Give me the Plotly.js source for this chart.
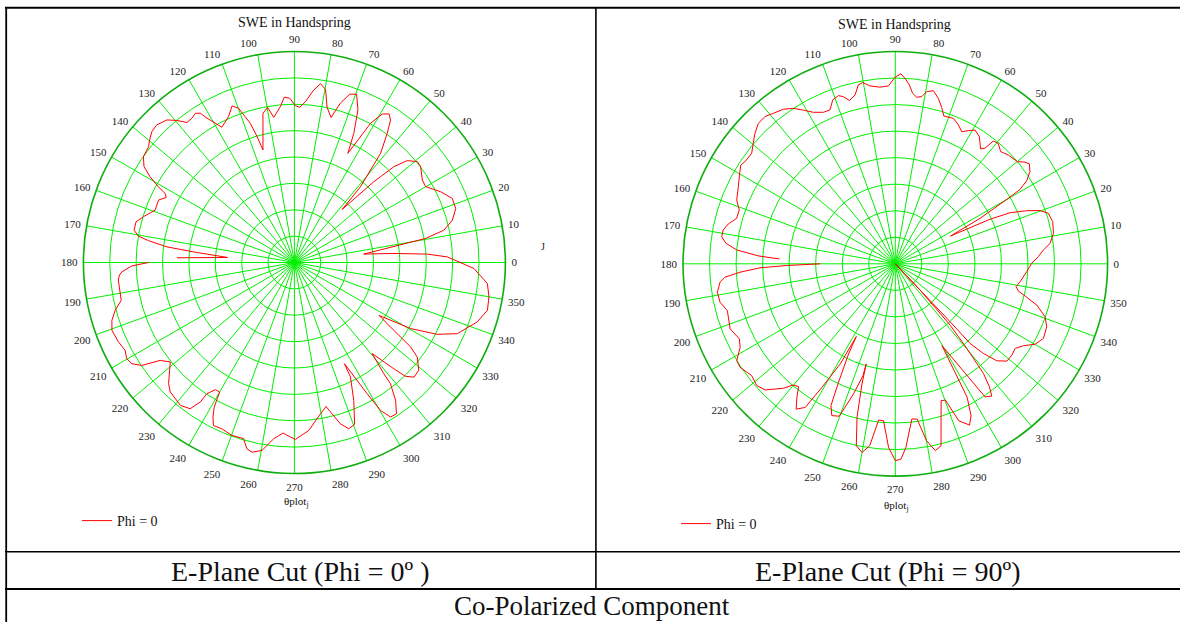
<!DOCTYPE html>
<html>
<head>
<meta charset="utf-8">
<script src="https://cdn.plot.ly/plotly-3.0.1.min.js"></script>
<style>
html,body{margin:0;padding:0;background:#ffffff;}
#chart{width:1180px;height:622px;}
</style>
</head>
<body>
<div id="chart"></div>
<script>
// ---- data (radius in grid-ring units, 8 rings = outer circle) ----
const angleTicks = [0,10,20,30,40,50,60,70,80,90,100,110,120,130,140,150,160,170,180,190,200,210,220,230,240,250,260,270,280,290,300,310,320,330,340,350];
const angleLabels = ['0','10','20','30','40','50','60','70','80','90','100','110','120','130','140','150','160','170','180','190','200','210','220','230','240','250','260','270','280','290','300','310','320','330','340','350'];

const thetaPhi0 = [180,181.2,183.1,184.1,185.7,192.3,194.9,197.6,200.4,204.3,207.4,209.8,211.9,214.0,216.1,218.7,223.9,226.2,231.4,234.5,236.0,236.3,238.1,240.0,241.0,242.2,243.6,246.5,250.1,253.9,255.7,257.4,260.2,263.3,266.2,268.7,270.3,274.9,279.8,282.4,285.9,288.1,290.4,293.3,296.1,296.3,299.0,300.2,301.9,304.0,306.3,308.4,308.8,310.5,313.1,314.3,316.2,319.1,322.4,324.0,325.7,328.0,330.4,333.3,336.4,342.0,346.1,350.0,353.8,358.1,2.1,3.6,5.2,6.9,10.4,12.2,15.0,18.5,22.1,25.8,30.0,32.8,37.2,39.4,42.1,43.9,45.5,48.0,48.9,51.7,54.3,56.0,57.5,59.4,61.3,63.9,65.3,67.4,69.7,71.8,73.9,75.8,78.1,79.8,81.7,83.6,86.1,88.0,89.6,91.6,93.5,95.1,98.1,99.8,101.9,105.6,106.5,107.6,109.9,111.7,114.3,118.2,121.2,122.2,123.6,125.4,127.5,129.6,131.8,135.0,137.4,139.8,141.5,145.0,147.5,149.3,150.9,151.9,153.1,155.3,159.4,163.1,165.6,168.6,170.4,171.5,173.0,174.0,175.7,177.7];
const rPhi0 = [5.53,6.16,6.55,6.65,6.71,6.72,7.03,7.26,7.38,7.32,7.23,7.33,7.26,6.98,6.30,6.03,6.62,6.80,6.93,6.81,6.38,5.98,5.68,5.67,6.27,6.62,6.90,6.88,6.97,6.95,7.29,7.37,7.23,6.73,6.48,6.62,6.71,6.39,5.82,5.59,6.36,6.63,6.55,5.69,4.83,4.28,5.69,6.49,6.90,6.92,6.48,5.86,5.41,4.54,5.52,6.03,6.28,6.24,5.88,5.45,4.56,3.78,5.07,6.06,6.74,7.29,7.54,7.49,7.36,6.81,5.80,5.05,3.79,2.65,5.06,5.80,6.20,6.45,6.46,6.16,5.75,5.77,6.01,6.03,5.76,5.24,4.29,2.71,3.81,5.27,6.03,6.52,6.68,6.54,6.02,4.61,5.39,6.27,6.80,6.72,6.29,5.67,6.01,6.67,6.85,6.58,6.11,5.89,5.94,6.23,6.28,5.94,5.56,5.97,5.78,4.43,4.98,5.54,6.22,6.39,6.07,5.82,6.40,6.69,6.79,6.71,6.69,6.99,7.25,7.38,7.34,7.19,7.06,6.99,6.76,6.36,5.90,5.56,5.45,5.67,5.64,5.98,6.20,6.20,6.00,5.59,4.87,3.85,2.54,4.46];

const thetaPhi90 = [180,180.9,181.7,183.1,184.5,186.0,189.1,192.4,195.6,201.5,205.7,208.3,211.4,213.7,217.9,221.3,224.1,228.1,229.8,231.8,233.6,235.7,237.9,239.3,241.2,241.8,242.6,244.4,245.6,247.3,249.8,252.2,253.9,253.8,254.5,256.0,257.9,260.0,262.0,263.9,265.7,267.9,270.0,271.7,273.3,276.1,278.0,280.0,282.1,284.1,288.5,290.2,292.0,294.7,296.5,298.3,299.7,304.0,306.1,307.4,308.8,309.3,310.2,311.8,313.3,313.5,313.4,313.2,314.5,316.3,318.9,321.9,324.8,327.4,330.1,333.3,337.4,340.5,343.7,346.0,347.5,349.3,351.8,356.6,0.2,2.9,5.3,7.5,10.9,15.0,18.3,20.2,22.0,24.0,25.2,26.7,28.2,30.1,30.8,32.3,34.4,36.7,38.1,39.9,43.9,46.8,49.5,51.4,52.2,53.4,56.5,59.2,61.3,63.3,65.6,68.2,71.8,73.5,75.4,77.6,79.7,81.0,82.7,84.2,85.5,87.0,88.3,90.1,92.2,95.0,98.1,100.2,101.7,103.4,105.7,107.3,108.7,110.9,113.0,115.4,118.4,120.9,123.3,125.9,129.0,131.5,134.3,137.1,139.7,142.4,145.4,147.4,150.3,153.8,158.1,161.0,164.0,166.6,168.9,171.1,173.1,175.0,176.7,177.6];
const rPhi90 = [2.83,4.09,5.10,5.86,6.44,6.64,6.79,6.76,6.57,6.69,6.52,6.64,7.00,7.03,6.86,6.95,6.83,6.30,5.98,5.89,6.25,6.63,6.39,5.41,4.30,3.11,3.83,4.95,5.87,6.20,6.12,5.15,4.39,3.93,4.70,5.96,7.01,7.22,6.92,5.92,5.93,6.92,7.42,7.36,6.93,5.88,5.91,6.77,7.20,7.07,5.44,5.47,6.38,6.69,6.40,5.71,3.55,6.05,6.17,5.84,5.30,4.85,4.18,3.10,1.36,0,3.01,4.12,4.74,5.29,5.58,5.58,5.53,5.73,6.08,6.25,6.18,5.99,5.56,5.05,4.75,4.63,4.75,4.96,5.14,5.40,5.60,5.88,6.07,6.14,6.07,5.81,5.34,4.73,3.94,2.33,3.62,4.92,5.47,5.86,6.15,6.30,6.21,6.00,5.91,5.80,5.97,5.92,5.51,5.39,5.74,5.87,5.72,5.57,5.75,5.90,5.86,6.15,6.44,6.68,6.59,6.38,6.33,6.46,6.76,7.00,7.16,7.03,6.71,6.68,6.77,6.94,6.88,6.54,6.39,6.60,6.69,6.61,6.30,6.32,6.49,6.75,7.01,7.19,7.30,7.41,7.39,7.22,7.02,6.83,6.84,6.91,6.76,6.59,6.44,6.22,6.22,6.47,6.61,6.62,6.43,6.00,5.17,4.37];

const seriesName = 'Phi = 0';
const plotTitle = 'SWE in Handspring';
const axisLabel = 'θplot<sub>j</sub>';
const captions = ['E-Plane Cut (Phi = 0º )', 'E-Plane Cut (Phi = 90º)'];
const footer = 'Co-Polarized Component';

// ---- layout helpers (pixel -> paper) ----
const W = 1180, H = 622;
const px = v => v / W;
const py = v => 1 - v / H;
const SERIF = 'Liberation Serif';

function polar(x0, x1, yTop, yBot) {
  return {
    domain: {x: [px(x0), px(x1)], y: [py(yBot), py(yTop)]},
    bgcolor: '#ffffff',
    radialaxis: {
      range: [0, 8], dtick: 1, tick0: 0,
      showline: false, showticklabels: false, ticks: '',
      gridcolor: '#00f000', gridwidth: 1
    },
    angularaxis: {
      direction: 'counterclockwise', rotation: 0,
      tickmode: 'array', tickvals: angleTicks, ticktext: angleLabels,
      ticks: 'outside', ticklen: 3, tickcolor: 'rgba(0,0,0,0)',
      tickfont: {family: SERIF, size: 11, color: '#222222'},
      gridcolor: '#00f000', gridwidth: 1,
      showline: true, linecolor: '#0fae0f', linewidth: 1.6
    }
  };
}

const traces = [
  {type: 'scatterpolar', mode: 'lines', subplot: 'polar', legend: 'legend',
   r: rPhi0, theta: thetaPhi0, name: seriesName,
   line: {color: '#ff0000', width: 1}},
  {type: 'scatterpolar', mode: 'lines', subplot: 'polar2', legend: 'legend2',
   r: rPhi90, theta: thetaPhi90, name: seriesName,
   line: {color: '#ff0000', width: 1}}
];

function hline(y, x0, x1, w) {
  return {type: 'line', xref: 'paper', yref: 'paper', x0: px(x0), x1: px(x1), y0: py(y), y1: py(y), line: {color: '#000', width: w}};
}
function vline(x, y0, y1, w) {
  return {type: 'line', xref: 'paper', yref: 'paper', x0: px(x), x1: px(x), y0: py(y0), y1: py(y1), line: {color: '#000', width: w}};
}

function ann(text, x, y, size, color) {
  return {
    text: text, xref: 'paper', yref: 'paper', x: px(x), y: py(y),
    xanchor: 'center', yanchor: 'middle', showarrow: false,
    font: {family: SERIF, size: size, color: color || '#111111'}
  };
}

const legendBase = {
  xanchor: 'left', yanchor: 'middle', bgcolor: 'rgba(0,0,0,0)', borderwidth: 0,
  font: {family: SERIF, size: 14, color: '#111111'}
};

const layout = {
  width: W, height: H,
  margin: {l: 0, r: 0, t: 0, b: 0},
  paper_bgcolor: '#ffffff',
  showlegend: true,
  polar: polar(83.4, 505.4, 51.5, 473.5),
  polar2: polar(683, 1107.6, 51.5, 476.1),
  legend: Object.assign({x: px(77), y: py(521)}, legendBase),
  legend2: Object.assign({x: px(676), y: py(524)}, legendBase),
  shapes: [
    hline(7.8, 5, 1180, 2),
    vline(6.2, 7, 622, 1.8),
    vline(595.9, 7, 589, 1.6),
    hline(551.7, 5, 1180, 1.5),
    hline(589, 5, 1180, 1.8)
  ],
  annotations: [
    ann(plotTitle, 294, 23, 14),
    ann(plotTitle, 894, 24, 14),
    ann(axisLabel, 296, 502, 11),
    ann(axisLabel, 897, 506, 11),
    ann('J', 543, 247, 10, '#222222'),
    ann(captions[0], 301, 571, 28),
    ann(captions[1], 888, 571, 28),
    ann(footer, 592, 605.5, 27)
  ]
};

Plotly.newPlot('chart', traces, layout, {displayModeBar: false, staticPlot: true});
</script>
</body>
</html>
